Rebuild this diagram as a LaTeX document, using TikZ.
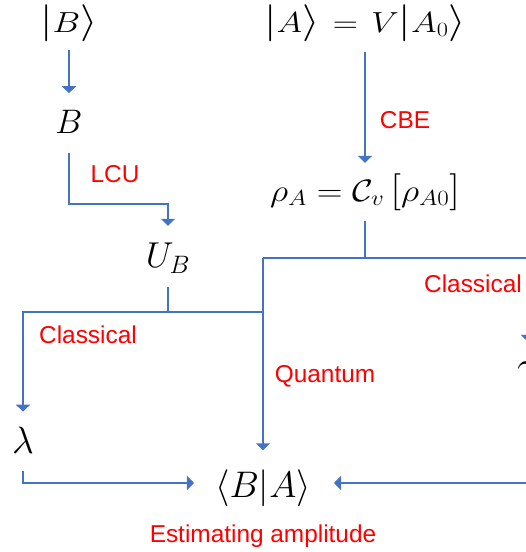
\RequirePackage{fix-cm}
\documentclass[tikz,border=0pt]{standalone}
\usepackage{amsmath}
\usepackage{fontspec}
\newfontfamily\labelfont{Liberation Sans}
\usepackage{xcolor}
\usepackage{graphicx}
\usepackage{tikz}
\usetikzlibrary{arrows.meta,positioning}

\definecolor{lineblue}{HTML}{4472C4}
\newcommand{\wide}[2][1.2]{\scalebox{#1}[1]{#2}}
\newcommand{\dlm}[1]{\mbox{\fontsize{37}{37}\selectfont$#1$}}

\begin{document}
\begin{tikzpicture}[
    x=1pt, y=1pt,
    on grid,
    eq/.style={inner sep=0pt, font=\fontsize{#1}{#1}\selectfont},
    eq/.default=29,
    tag/.style={inner sep=0pt, text=red, font=\labelfont\fontsize{24.4}{28}\selectfont},
    link/.style={line width=2pt, draw=lineblue},
    arr/.style={link, -{Triangle[length=7pt, width=14pt]}},
]
\useasboundingbox (0,0) rectangle (526,-552);

% --- States and operators ---
\node[eq] (ketB) at (69,-23) {\wide{$\dlm{|}B\dlm{\rangle}$}};
\node[eq=34, below=99pt of ketB] (opB) {$B$};
\node[eq=36, below right=136pt and 99pt of opB] (UB) {$U_B$};
\node[eq, right=296pt of ketB] (ketA) {\wide{$\dlm{|}A\dlm{\rangle}\mkern2mu=\mkern2mu V\dlm{|}A_0\dlm{\rangle}$}};
\node[eq=31, below=169pt of ketA] (rhoA) {\wide[1.15]{$\rho_A=\mathcal{C}_v\,\dlm{[}\rho_{A0}\dlm{]}$}};
\node[eq=37, below left=296pt and 102pt of rhoA] (amp) {$\langle B|A\rangle$};
\node[eq=38, above left=48pt and 240pt of amp] (lam) {$\lambda$};
\node[eq=38, above right=114pt and 265pt of amp] (gam) {$\gamma$};

% junctions
\coordinate[below=66pt of rhoA] (splitA);
\coordinate[below=54pt of UB] (splitB);

% --- Labels ---
\node[tag, below right=52pt and 46pt of opB] (lcu) {LCU};
\node[tag, below right=97pt and 40pt of ketA] (cbe) {CBE};
\node[tag, above right=105pt and 65pt of lam] (clL) {Classical};
\node[tag, above right=112pt and 62pt of amp] (qu) {Quantum};
\node[tag, above left=90pt and 55pt of gam] (clR) {Classical};
\node[tag, below=48pt of amp] (est) {Estimating amplitude};

% --- Arrows ---
\draw[arr, shorten <=8.5pt, shorten >=17pt] (ketB) -- (opB);
\draw[arr, shorten <=19pt, shorten >=17pt] (opB) -- ++(0,-82) -| (UB);
\draw[arr, shorten <=10.5pt, shorten >=10.5pt] (ketA) -- (rhoA);
\draw[link, shorten <=10.5pt] (rhoA) -- (splitA);
\draw[arr, shorten >=20pt] (splitA -| amp) -| (gam);
\draw[arr, shorten >=19pt] (splitA -| amp) -- (amp);
\draw[link, shorten <=14pt] (UB) -- (splitB);
\draw[arr, shorten >=15pt] (splitB -| amp) -| (lam);
\draw[arr, shorten <=18pt, shorten >=21pt] (lam) |- ([yshift=5pt]amp.west);
\draw[arr, shorten <=12pt, shorten >=23pt] (gam) |- ([yshift=5pt]amp.east);

\end{tikzpicture}
\end{document}
